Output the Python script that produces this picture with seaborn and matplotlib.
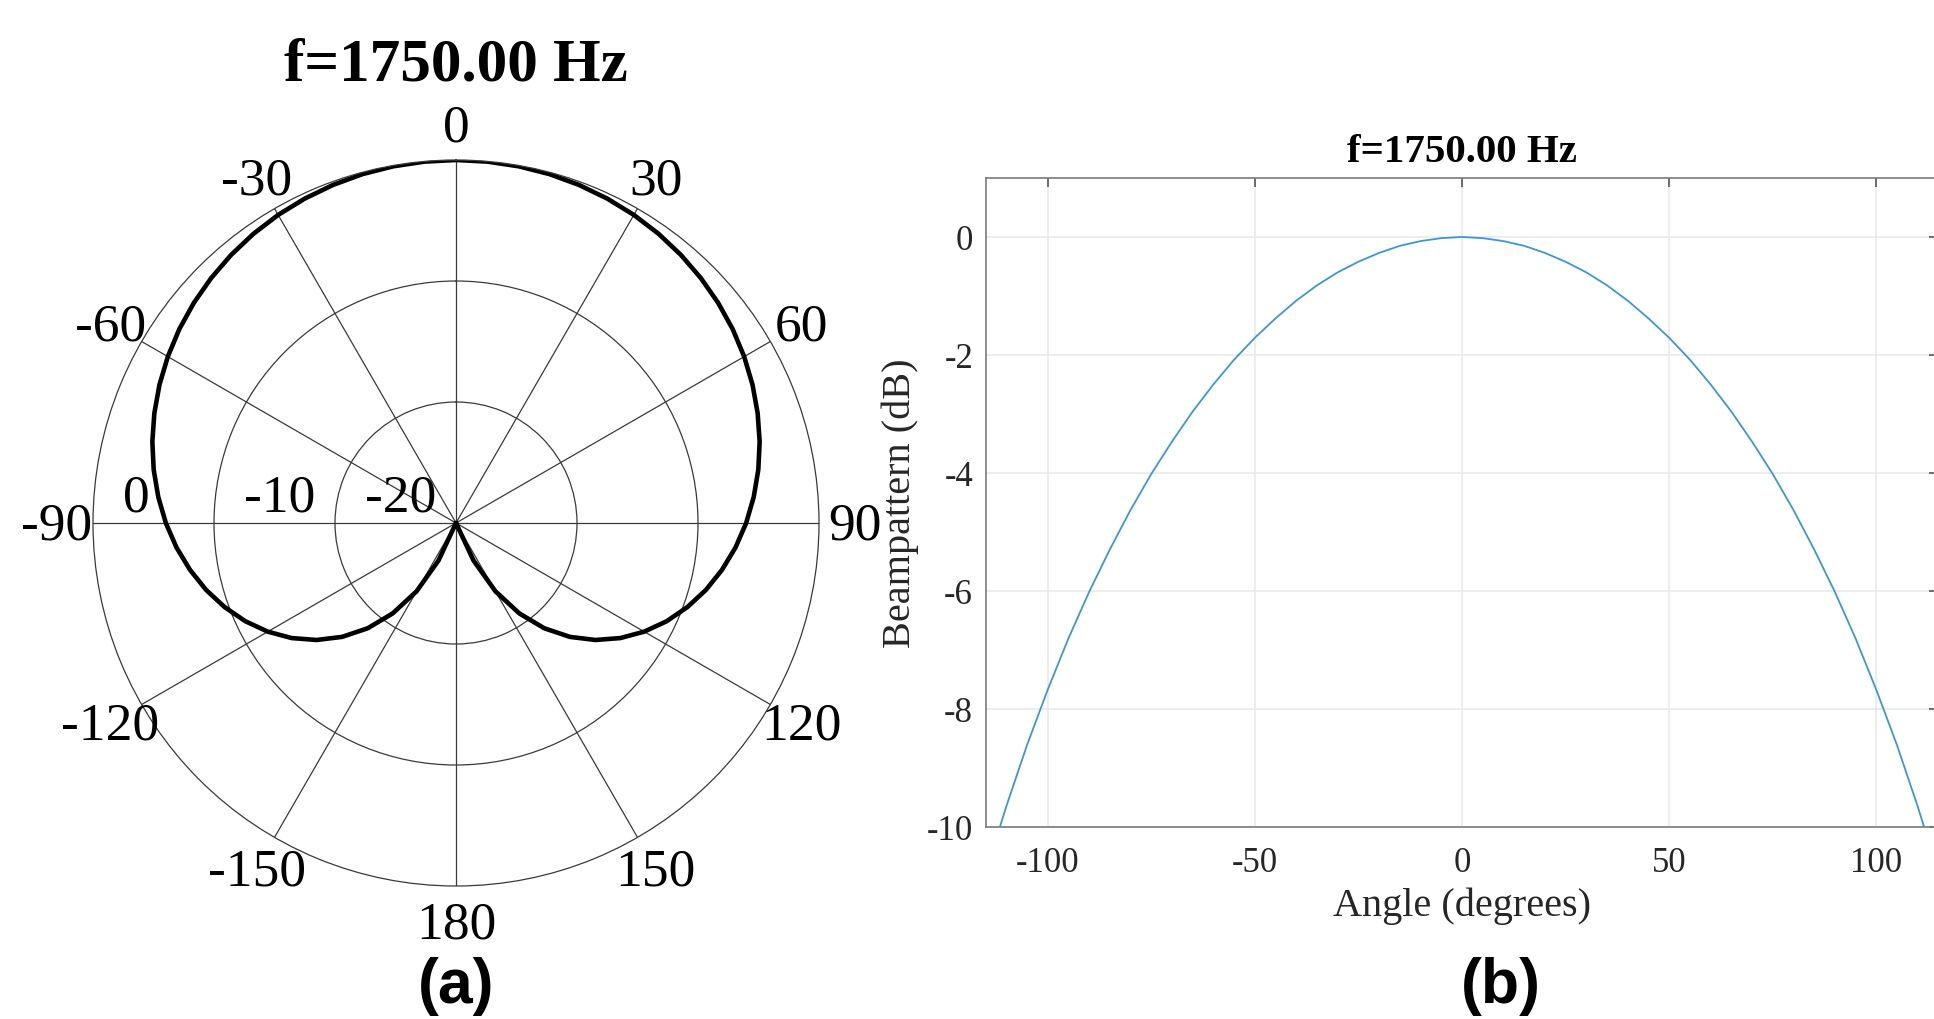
import numpy as np
import pandas as pd
import matplotlib
matplotlib.use("Agg")
import matplotlib.pyplot as plt
import seaborn as sns

# ---------------- data ----------------
title_text = "f=1750.00 Hz"
angle_deg = [-180, -175, -170, -165, -160, -155, -150, -145, -140, -135, -130, -125,
             -120, -115, -110, -105, -100, -95, -90, -85, -80, -75, -70, -65,
             -60, -55, -50, -45, -40, -35, -30, -25, -20, -15, -10, -5,
             0, 5, 10, 15, 20, 25, 30, 35, 40, 45, 50, 55,
             60, 65, 70, 75, 80, 85, 90, 95, 100, 105, 110, 115,
             120, 125, 130, 135, 140, 145, 150, 155, 160, 165, 170, 175, 180]
beam_db = [-80.00, -54.41, -42.39, -35.37, -30.41, -26.59, -23.48, -20.88, -18.64, -16.69, -14.96, -13.42,
           -12.04, -10.79, -9.66, -8.62, -7.68, -6.81, -6.02, -5.30, -4.63, -4.02, -3.47, -2.96,
           -2.50, -2.08, -1.71, -1.38, -1.08, -0.82, -0.60, -0.42, -0.27, -0.15, -0.07, -0.02,
           0.00, -0.02, -0.07, -0.15, -0.27, -0.42, -0.60, -0.82, -1.08, -1.38, -1.71, -2.08,
           -2.50, -2.96, -3.47, -4.02, -4.63, -5.30, -6.02, -6.81, -7.68, -8.62, -9.66, -10.79,
           -12.04, -13.42, -14.96, -16.69, -18.64, -20.88, -23.48, -26.59, -30.41, -35.37, -42.39, -54.41, -80.00]
polar_tick_deg = [0, 30, 60, 90, 120, 150, 180, 210, 240, 270, 300, 330]
polar_tick_labels = ["0", "30", "60", "90", "120", "150", "180", "-150", "-120", "-90", "-60", "-30"]
ring_db = [-20, -10, 0]
ring_labels = ["-20", "-10", "0"]
floor_db = -30
x_ticks = [-100, -50, 0, 50, 100]
y_ticks = [-10, -8, -6, -4, -2, 0]
x_label = "Angle (degrees)"
y_label = "Beampattern (dB)"
panel_labels = ["(a)", "(b)"]

# ---------------- style ----------------
sns.set_style("white")
plt.rcParams["font.family"] = ["Liberation Serif", "DejaVu Serif"]
plt.rcParams["axes.unicode_minus"] = False

W, H, DPI = 1934, 1020, 100
fig = plt.figure(figsize=(W / DPI, H / DPI), dpi=DPI)

df = pd.DataFrame({"angle": angle_deg, "db": beam_db})
df["theta"] = np.deg2rad(df["angle"])
df["r"] = np.clip(df["db"], floor_db, 0) - floor_db

# ---------------- polar panel ----------------
cx, cy, R = 456, 524, 363
axp = fig.add_axes([(cx - R) / W, (H - cy - R) / H, 2 * R / W, 2 * R / H], projection="polar")
axp.set_theta_zero_location("N")
axp.set_theta_direction(-1)
sns.lineplot(data=df, x="theta", y="r", ax=axp, sort=False, estimator=None,
             color="black", lw=3.3)
axp.set_ylim(0, -floor_db)
axp.set_rticks([d - floor_db for d in ring_db[:-1]])
axp.set_yticklabels([])
axp.set_thetagrids(polar_tick_deg, labels=[""] * len(polar_tick_deg))
axp.grid(True, color="#3a3a3a", lw=0.9)
axp.spines["polar"].set_color("#3a3a3a")
axp.spines["polar"].set_linewidth(0.9)
axp.set_xlabel("")
axp.set_ylabel("")
axp.tick_params(pad=0)

for deg, lab in zip(polar_tick_deg, polar_tick_labels):
    th = np.deg2rad(deg)
    axp.annotate(lab, xy=(th, -floor_db), xytext=(36 * np.sin(th), 36 * np.cos(th) - 3),
                 textcoords="offset pixels", ha="center", va="center", fontsize=38.5,
                 color="black", annotation_clip=False)
for d, lab in zip(ring_db, ring_labels):
    axp.annotate(lab, xy=(np.deg2rad(-90), d - floor_db), xytext=(30, 25),
                 textcoords="offset pixels", ha="left", va="center", fontsize=38.5,
                 color="black", annotation_clip=False)

fig.text(cx / W, 1 - 81 / H, title_text, ha="center", va="baseline",
         fontsize=44, fontweight="bold", color="black")
fig.text(cx / W, 1 - 987 / H, panel_labels[0], ha="center", va="center",
         fontsize=45, fontweight="bold", color="black",
         family=["Liberation Sans", "DejaVu Sans"])

# ---------------- cartesian panel ----------------
L, Rt, T, B = 985.5, 1938.5, 179, 827.7
axr = fig.add_axes([L / W, (H - B) / H, (Rt - L) / W, (B - T) / H])
sns.lineplot(data=df, x="angle", y="db", ax=axr, sort=False, estimator=None,
             color="#3D96D6", lw=1.3)
axr.set_xlim(-115, 115)
axr.set_ylim(-10, 1)
axr.set_xticks(x_ticks)
axr.set_yticks(y_ticks)
axr.set_xticklabels([str(v) for v in x_ticks])
axr.set_yticklabels([str(v) for v in y_ticks])
axr.grid(True, color="#e8e8e8", lw=1.1)
axr.set_axisbelow(True)
for s in axr.spines.values():
    s.set_color("#7a7a7a")
    s.set_linewidth(1.2)
    s.set_visible(True)
axr.tick_params(axis="both", direction="in", length=6.5, width=1.2, color="#555555",
                top=True, right=True, labelcolor="#262626", labelsize=25)
axr.tick_params(axis="x", pad=14)
axr.tick_params(axis="y", pad=9)
axr.set_xlabel(x_label, fontsize=29, color="#262626")
axr.set_ylabel(y_label, fontsize=29, color="#262626")
axr.xaxis.label.set_va("center")
axr.yaxis.label.set_va("center")
axr.xaxis.set_label_coords(0.5, (B - 906) / (B - T))
axr.yaxis.set_label_coords((900 - L) / (Rt - L), 0.5)

fig.text((L + Rt) / 2 / W, 1 - 161.6 / H, title_text, ha="center", va="baseline",
         fontsize=29.5, fontweight="bold", color="black")
fig.text(1501 / W, 1 - 987 / H, panel_labels[1], ha="center", va="center",
         fontsize=45, fontweight="bold", color="black",
         family=["Liberation Sans", "DejaVu Sans"])

fig.savefig("out.png", dpi=DPI)
